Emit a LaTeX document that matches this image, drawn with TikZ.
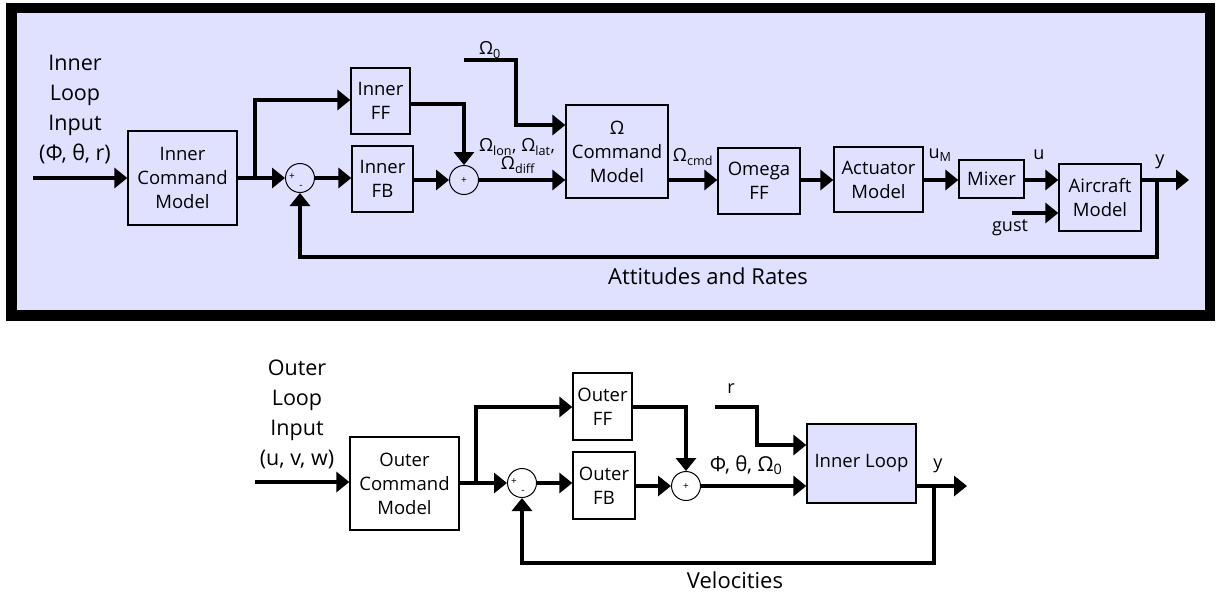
\documentclass[tikz,border=0pt]{standalone}
\usepackage{fontspec}
\setmainfont{Open Sans}
\usetikzlibrary{arrows.meta}
\definecolor{lav}{RGB}{224,224,255}
\tikzset{
  blk/.style={draw=black, line width=1.3pt, inner sep=0pt, align=center, font=\fontsize{18.5}{24}\selectfont},
  sumnode/.style={draw=black, line width=1pt, circle, minimum size=29pt, inner sep=0pt},
  sig/.style={line width=4pt, -{Triangle[length=13pt,width=20pt]}},
  wire/.style={line width=4pt},
  lbl/.style={font=\fontsize{18}{20}\selectfont, inner sep=0pt},
  biglbl/.style={font=\fontsize{21.5}{30}\selectfont, align=center, inner sep=0pt},
  pm/.style={font=\fontsize{10}{10}\selectfont, inner sep=0pt}
}
\newcommand{\sbs}[1]{\textsubscript{#1}}
\begin{document}
\begin{tikzpicture}[x=1pt,y=-1pt]
\useasboundingbox (0,0) rectangle (1216,592);
\fill[white] (0,0) rectangle (1216,592);
% frame
\draw[line width=10.5pt, fill=lav] (11.5,8) rectangle (1210,315.5);

% ---------------- top ----------------
\node[biglbl] (intxt) at (75,110) {Inner\\Loop\\Input\\(Φ, θ, r)};
\node[blk, minimum width=109pt, minimum height=94pt] (icm) at (182.5,178) {Inner\\Command\\Model};
\node[blk, minimum width=59pt, minimum height=66pt] (iff) at (380.5,101) {Inner\\FF};
\node[blk, minimum width=61pt, minimum height=66pt] (ifb) at (382.5,179) {Inner\\FB};
\node[sumnode] (s1) at (300,178) {};
\node[pm] at (292,177) {+};
\node[pm] at (301,187) {-};
\node[sumnode] (s2) at (464,180) {};
\node[pm] at (464,181) {+};
\node[blk, minimum width=102pt, minimum height=93pt] (ocm) at (617,151.5) {Ω\\Command\\Model};
\node[blk, minimum width=82pt, minimum height=66pt] (omff) at (759,181) {Omega\\FF};
\node[blk, minimum width=89pt, minimum height=65pt] (act) at (878.5,179.5) {Actuator\\Model};
\node[blk, minimum width=65pt, minimum height=38pt] (mix) at (991.5,179) {Mixer};
\node[blk, minimum width=82pt, minimum height=67pt] (acm) at (1100,197.5) {Aircraft\\Model};

\coordinate (inA) at (33,178);
\coordinate (j1) at (255,178);
\coordinate (j1u) at (255,100);
\coordinate (ffo) at (464,104);
\coordinate (w0a) at (464,60);
\coordinate (w0b) at (516,60);
\coordinate (w0c) at (516,125);
\coordinate (gA) at (1012,213);
\coordinate (yT) at (1189,180);
\coordinate (fb1) at (1157,180);
\coordinate (fb2) at (1157,257);
\coordinate (fb3) at (300,257);

\draw[sig] (inA) -- (icm.west |- inA);
\draw[wire] (icm.east |- j1) -- (j1);
\draw[sig] (j1) -- (s1.west);
\draw[sig] (j1) -- (j1u) -- (iff.west |- j1u);
\draw[sig] (s1.east) -- (ifb.west |- s1.east);
\draw[sig] (iff.east |- ffo) -- (ffo) -- (s2.north);
\draw[sig] (ifb.east |- s2.west) -- (s2.west);
\draw[sig] (s2.east) -- (ocm.west |- s2.east);
\draw[sig] (w0a) -- (w0b) -- (w0c) -- (ocm.west |- w0c);
\draw[sig] (ocm.east |- 0,180) -- (omff.west |- 0,180);
\draw[sig] (omff.east |- 0,180) -- (act.west |- 0,180);
\draw[sig] (act.east |- 0,180) -- (mix.west |- 0,180);
\draw[sig] (mix.east |- 0,180) -- (acm.west |- 0,180);
\draw[sig] (gA) -- (acm.west |- gA);
\draw[sig] (acm.east |- yT) -- (yT);
\draw[sig] (fb1) -- (fb2) -- (fb3) -- (s1.south);

\node[lbl] (lw0) at (490,50) {Ω\sbs{0}};
\node[lbl] (lom1) at (517,147) {Ω\sbs{lon}, Ω\sbs{lat},};
\node[lbl] (lom2) at (518,165) {Ω\sbs{diff}};
\node[lbl] (lcmd) at (693,157) {Ω\sbs{cmd}};
\node[lbl] (lum) at (940,155) {u\sbs{M}};
\node[lbl] (lu) at (1039,155) {u};
\node[lbl] (ly1) at (1160,162) {y};
\node[lbl] (lgust) at (1010,228) {gust};
\node[lbl, font=\fontsize{22}{24}\selectfont] (latt) at (708,276) {Attitudes and Rates};

% ---------------- bottom ----------------
\node[biglbl] (outtxt) at (297,414) {Outer\\Loop\\Input\\(u, v, w)};
\node[blk, minimum width=109pt, minimum height=93pt] (ocmd) at (404.5,483.5) {Outer\\Command\\Model};
\node[blk, minimum width=59pt, minimum height=67pt] (off) at (602.5,406.5) {Outer\\FF};
\node[blk, minimum width=62pt, minimum height=67pt] (ofb) at (604,485.5) {Outer\\FB};
\node[sumnode] (s3) at (522,483) {};
\node[pm] at (514,482) {+};
\node[pm] at (523,492) {-};
\node[sumnode] (s4) at (686,486) {};
\node[pm] at (686,487) {+};
\node[blk, fill=lav, minimum width=109pt, minimum height=79pt] (il) at (861.5,463.5) {Inner Loop};

\coordinate (inB) at (255,482);
\coordinate (j2) at (476,483);
\coordinate (j2u) at (476,407);
\coordinate (ffo2) at (686,407);
\coordinate (ra) at (715,407);
\coordinate (rb) at (757,407);
\coordinate (rc) at (757,445);
\coordinate (yB) at (967,486);
\coordinate (fb4) at (934,486);
\coordinate (fb5) at (934,563);
\coordinate (fb6) at (522,563);

\draw[sig] (inB) -- (ocmd.west |- inB);
\draw[wire] (ocmd.east |- j2) -- (j2);
\draw[sig] (j2) -- (s3.west);
\draw[sig] (j2) -- (j2u) -- (off.west |- j2u);
\draw[sig] (s3.east) -- (ofb.west |- s3.east);
\draw[sig] (off.east |- ffo2) -- (ffo2) -- (s4.north);
\draw[sig] (ofb.east |- s4.west) -- (s4.west);
\draw[sig] (s4.east) -- (il.west |- s4.east);
\draw[sig] (ra) -- (rb) -- (rc) -- (il.west |- rc);
\draw[sig] (il.east |- yB) -- (yB);
\draw[sig] (fb4) -- (fb5) -- (fb6) -- (s3.south);

\node[lbl] (lr) at (731,389) {r};
\node[lbl, font=\fontsize{20.5}{22}\selectfont] (lphi) at (746,465) {Φ, θ, Ω\sbs{0}};
\node[lbl] (ly2) at (938,466) {y};
\node[lbl, font=\fontsize{22}{24}\selectfont] (lvel) at (735,580) {Velocities};
\end{tikzpicture}
\end{document}
